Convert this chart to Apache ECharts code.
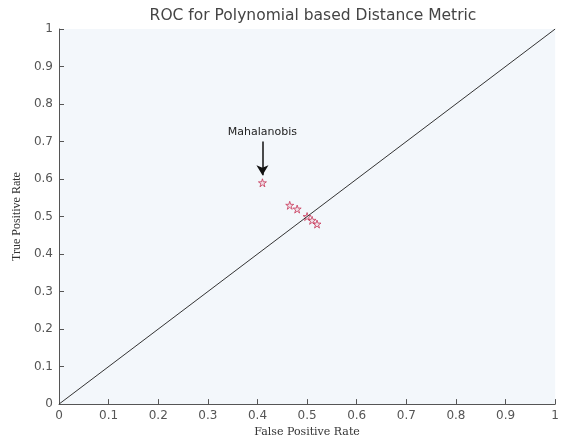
<!DOCTYPE html>
<html>
<head>
<meta charset="utf-8">
<script src="https://cdn.jsdelivr.net/npm/echarts@6/dist/echarts.min.js"></script>
<style>
  html, body { margin: 0; padding: 0; background: #ffffff; }
  #chart { width: 562px; height: 443px; }
</style>
</head>
<body>
<div id="chart"></div>
<script>
// Operating points of the distance metrics (false positive rate, true positive rate)
const fprValues = [0.41, 0.465, 0.48, 0.50, 0.51, 0.52];
const tprValues = [0.59, 0.53, 0.52, 0.50, 0.49, 0.48];
// Chance line
const chanceX = [0, 1];
const chanceY = [0, 1];
// Annotated point
const annotationName = 'Mahalanobis';
const annotationPoint = [0.41, 0.59];
const annotationArrowTop = 0.70;
const annotationArrowTip = 0.61;
// Tick labels
const tickLabels = ['0', '0.1', '0.2', '0.3', '0.4', '0.5', '0.6', '0.7', '0.8', '0.9', '1'];

const starPath = 'path://M50,0 L61.8,36.2 L100,36.2 L69.1,58.8 L80.9,95.1 L50,72.7 L19.1,95.1 L30.9,58.8 L0,36.2 L38.2,36.2 Z';

const axisCommon = {
  type: 'value',
  min: 0,
  max: 1,
  interval: 0.1,
  axisLine: { show: true, lineStyle: { color: '#555555', width: 1 } },
  axisTick: { show: true, inside: true, length: 5, lineStyle: { color: '#555555' } },
  splitLine: { show: false },
  axisLabel: {
    color: '#555555',
    fontFamily: 'DejaVu Sans, sans-serif',
    fontSize: 12,
    formatter: v => tickLabels[Math.round(v * 10)]
  },
  nameLocation: 'middle'
};

const chart = echarts.init(document.getElementById('chart'), null, { renderer: 'canvas' });
chart.setOption({
  animation: false,
  backgroundColor: '#ffffff',
  title: {
    text: 'ROC for Polynomial based Distance Metric',
    left: 308,
    textAlign: 'center',
    top: 3,
    textStyle: {
      color: '#444444',
      fontFamily: 'DejaVu Sans, sans-serif',
      fontWeight: 'normal',
      fontSize: 15.5
    }
  },
  grid: {
    left: 59,
    right: 5,
    top: 29,
    bottom: 30,
    show: true,
    backgroundColor: '#f3f7fb',
    borderWidth: 0
  },
  xAxis: Object.assign({}, axisCommon, {
    name: 'False Positive Rate',
    nameGap: 19,
    nameTextStyle: {
      color: '#333333',
      fontFamily: 'DejaVu Serif, serif',
      fontSize: 11
    },
    axisLabel: Object.assign({}, axisCommon.axisLabel, { margin: 6 })
  }),
  yAxis: Object.assign({}, axisCommon, {
    name: 'True Positive Rate',
    nameGap: 34,
    nameTextStyle: {
      color: '#333333',
      fontFamily: 'Liberation Serif, serif',
      fontSize: 12
    },
    axisLabel: Object.assign({}, axisCommon.axisLabel, { margin: 6 })
  }),
  series: [
    {
      type: 'line',
      data: chanceX.map((x, i) => [x, chanceY[i]]),
      symbol: 'none',
      lineStyle: { color: '#333333', width: 1 },
      silent: true
    },
    {
      type: 'scatter',
      data: fprValues.map((x, i) => [x, tprValues[i]]),
      symbol: starPath,
      symbolSize: 8,
      itemStyle: { color: 'rgba(230,150,170,0.3)', borderColor: '#c8385a', borderWidth: 1 },
      markLine: {
        silent: true,
        symbol: ['none', 'arrow'],
        symbolSize: [9, 10],
        lineStyle: { color: '#111111', width: 1.5, type: 'solid' },
        label: {
          show: true,
          position: 'start',
          formatter: annotationName,
          distance: 4,
          color: '#222222',
          fontFamily: 'DejaVu Sans, sans-serif',
          fontSize: 11
        },
        data: [[
          { coord: [annotationPoint[0], annotationArrowTop] },
          { coord: [annotationPoint[0], annotationArrowTip] }
        ]]
      }
    }
  ]
});
</script>
</body>
</html>
